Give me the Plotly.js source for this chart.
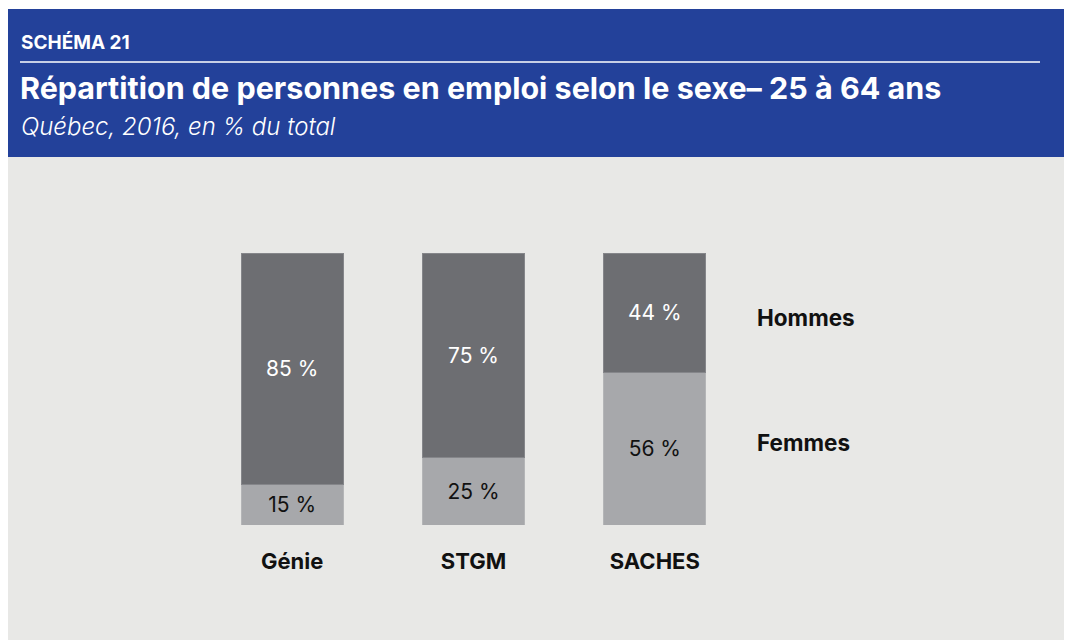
<!DOCTYPE html>
<html>
<head>
<meta charset="utf-8">
<script src="https://cdn.plot.ly/plotly-3.0.1.min.js"></script>
<style>html,body{margin:0;padding:0;background:#fff;}#chart{width:1065px;height:640px;}</style>
</head>
<body>
<div id="chart"></div>
<script>
const categories = ['Génie', 'STGM', 'SACHES'];
const femmes = [15, 25, 56];
const hommes = [85, 75, 44];
const seriesNames = ['Femmes', 'Hommes'];
const kicker = 'SCHÉMA 21';
const titleText = 'Répartition de personnes en emploi selon le sexe– 25 à 64 ans';
const subtitleText = 'Québec, 2016, en % du total';

const W = 1065, H = 640;
const px = x => x / W;
const py = y => 1 - y / H;
const FONT = 'Inter, "Noto Sans", sans-serif';

const fmt = v => v + ' %';

const traceF = {
  type: 'bar', x: categories, y: femmes, name: seriesNames[0],
  marker: {color: '#a7a8ab', line: {color: '#b4b5b7', width: 1}},
  text: femmes.map(fmt), textposition: 'inside', insidetextanchor: 'middle',
  textfont: {family: FONT, size: 21, color: '#111111'},
  hoverinfo: 'none'
};
const traceH = {
  type: 'bar', x: categories, y: hommes, name: seriesNames[1],
  marker: {color: '#6d6e72', line: {color: '#85868a', width: 1}},
  text: hommes.map(fmt), textposition: 'inside', insidetextanchor: 'middle',
  textfont: {family: FONT, size: 21, color: '#ffffff'},
  hoverinfo: 'none'
};

const last = categories.length - 1;
const layout = {
  width: W, height: H,
  margin: {l: 0, r: 0, t: 0, b: 0},
  paper_bgcolor: '#ffffff',
  plot_bgcolor: 'rgba(0,0,0,0)',
  barmode: 'stack',
  bargap: 0.437,
  showlegend: false,
  xaxis: {
    domain: [px(201.5), px(745.5)],
    range: [-0.5, 2.5],
    showgrid: false, zeroline: false, showline: false,
    ticks: 'outside', ticklen: 17, tickcolor: 'rgba(0,0,0,0)',
    tickfont: {family: FONT, size: 22, color: '#111111', weight: 'bold'},
    fixedrange: true
  },
  yaxis: {
    domain: [py(525), py(253)],
    range: [0, 100],
    visible: false,
    fixedrange: true
  },
  shapes: [
    {type: 'rect', xref: 'paper', yref: 'paper', x0: px(8), x1: px(1064), y0: py(157), y1: py(9),
     fillcolor: '#23419a', line: {width: 0}, layer: 'below'},
    {type: 'rect', xref: 'paper', yref: 'paper', x0: px(8), x1: px(1064), y0: py(640), y1: py(157),
     fillcolor: '#e8e8e6', line: {width: 0}, layer: 'below'},
    {type: 'line', xref: 'paper', yref: 'paper', x0: px(20), x1: px(1040), y0: py(62), y1: py(62),
     line: {color: '#ffffff', width: 1.5}}
  ],
  annotations: [
    {xref: 'paper', yref: 'paper', x: px(19), y: py(43), xanchor: 'left', yanchor: 'middle',
     text: kicker, showarrow: false, font: {family: FONT, size: 19, color: '#ffffff', weight: 'bold'}},
    {xref: 'paper', yref: 'paper', x: px(18), y: py(88), xanchor: 'left', yanchor: 'middle',
     text: titleText, showarrow: false, font: {family: FONT, size: 30.5, color: '#ffffff', weight: 'bold'}},
    {xref: 'paper', yref: 'paper', x: px(19), y: py(126), xanchor: 'left', yanchor: 'middle',
     text: subtitleText, showarrow: false, font: {family: FONT, size: 24, color: '#ffffff', style: 'italic', weight: 300}},
    {xref: 'paper', yref: 'y', x: px(755), y: femmes[last] + hommes[last] / 2, yshift: -5, xanchor: 'left', yanchor: 'middle',
     text: seriesNames[1], showarrow: false, font: {family: FONT, size: 22.5, color: '#111111', weight: 'bold'}},
    {xref: 'paper', yref: 'y', x: px(755), y: femmes[last] / 2, yshift: 6, xanchor: 'left', yanchor: 'middle',
     text: seriesNames[0], showarrow: false, font: {family: FONT, size: 22.5, color: '#111111', weight: 'bold'}}
  ]
};

Plotly.newPlot('chart', [traceF, traceH], layout, {displayModeBar: false, staticPlot: true});
</script>
</body>
</html>
